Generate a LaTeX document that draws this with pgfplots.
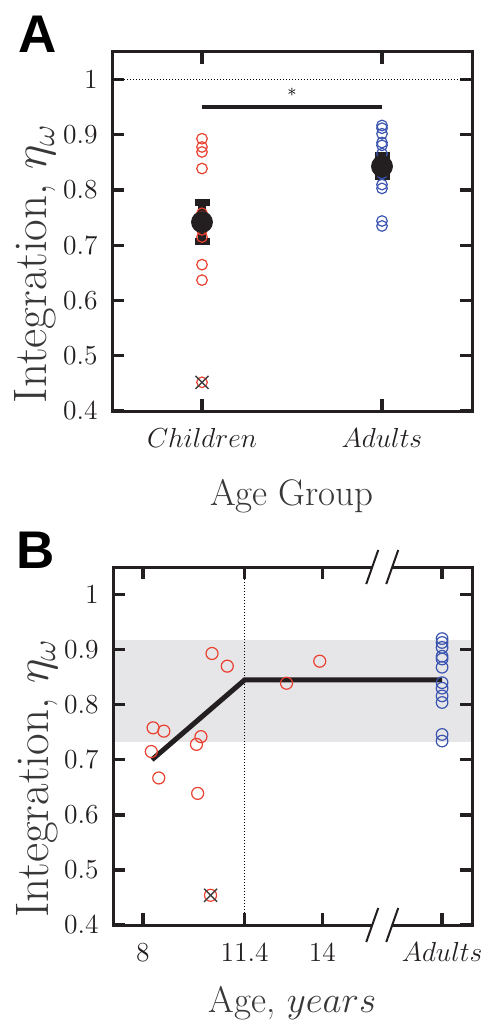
\RequirePackage{fix-cm}
\documentclass[border=0pt]{standalone}
\usepackage{fontspec}
\usepackage{pgfplots}
\pgfplotsset{compat=1.18}
\usetikzlibrary{calc}
\newfontfamily\helv{Liberation Sans}

\definecolor{kidred}{RGB}{234,64,48}
\definecolor{adblue}{RGB}{58,84,176}
\definecolor{band}{RGB}{230,230,232}
\definecolor{ink}{RGB}{35,31,32}

\pgfplotsset{
  panel/.style={
    scale only axis,
    ymin=0.4, ymax=1.05,
    ytick={0.4,0.5,0.6,0.7,0.8,0.9,1},
    axis line style={line width=1.5pt, draw=ink},
    tick style={line width=1.65pt, draw=ink},
    major tick length=6pt,
    tick align=inside,
    tick pos=both,
    tick label style={font=\fontsize{13.75}{15}\selectfont, text=ink},
    y tick label style={anchor=east, inner sep=0pt, xshift=-7pt},
    x tick label style={anchor=base, inner sep=0pt, yshift=-18pt},
    ylabel={Integration, $\eta_\omega$},
    ylabel style={font=\fontsize{23.5}{26}\selectfont, text=black!78,
      at={(axis description cs:-0.1806,0.41)}, anchor=base},
    xlabel style={font=\fontsize{18.5}{20}\selectfont, text=black!78, anchor=base},
    clip=false,
  }
}

\begin{document}
\begin{tikzpicture}
\path[use as bounding box] (0,0) rectangle (242.5pt,-510.5pt);

% ---- panel A: groups
\begin{axis}[panel, name=A,
  at={(56pt,-205.5pt)}, anchor=south west,
  width=180pt, height=179.5pt,
  xmin=0.5, xmax=2.5,
  xtick={1,2}, xticklabels={$Children$,$Adults$},
  xlabel={Age Group},
  xlabel style={at={(axis description cs:0.5,-0.2646)}},
]
\addplot[densely dotted, line width=0.5pt] coordinates {(0.5,1) (2.5,1)};
\addplot[ink, line width=2.2pt] coordinates {(1,0.95) (2,0.95)};
\node[font=\fontsize{9}{9}\selectfont] at (axis cs:1.5,0.977) {$\ast$};

% children
\addplot[only marks, mark=o, mark size=2.65pt, kidred, mark options={line width=0.6pt}] coordinates {
  (1,0.893) (1,0.878) (1,0.869) (1,0.839) (1,0.758) (1,0.752)
  (1,0.742) (1,0.728) (1,0.715) (1,0.665) (1,0.637) (1,0.452)
};
% adults
\addplot[only marks, mark=o, mark size=2.65pt, adblue, mark options={line width=0.6pt}] coordinates {
  (2,0.917) (2,0.912) (2,0.902) (2,0.886) (2,0.881) (2,0.866)
  (2,0.840) (2,0.830) (2,0.810) (2,0.803) (2,0.744) (2,0.735)
};
% means +- sem
\addplot[only marks, mark=*, mark size=5.25pt, ink,
  error bars/.cd, y dir=both, y explicit,
  error bar style={line width=4pt, ink},
  error mark options={rotate=90, mark size=3.75pt, line width=3.5pt, ink}]
  coordinates {(1,0.742) +- (0,0.036) (2,0.843) +- (0,0.019)};
% excluded
\addplot[only marks, mark=x, mark size=4.6pt, black!75, mark options={line width=0.7pt}] coordinates {(1,0.452)};
\end{axis}

% ---- panel B: age
\begin{axis}[panel, name=B,
  at={(56.5pt,-462.5pt)}, anchor=south west,
  width=179.5pt, height=179pt,
  xmin=7, xmax=19,
  xtick={8,11.4,14,18}, xticklabels={8,11.4,14,$Adults$},
  xlabel={Age, $years$},
  xlabel style={at={(axis description cs:0.5,-0.243)}},
  axis on top,
]
\addplot[fill=band, draw=none] coordinates {(7,0.733) (19,0.733) (19,0.918) (7,0.918)} -- cycle;
\addplot[densely dotted, line width=0.5pt] coordinates {(11.4,0.4) (11.4,1.05)};
\addplot[ink, line width=2.5pt] coordinates {(8.3,0.700) (11.4,0.845) (18,0.845)};

\addplot[only marks, mark=o, mark size=3pt, kidred, mark options={line width=0.6pt}] coordinates {
  (10.31,0.893) (10.82,0.870) (13.91,0.879) (12.80,0.839)
  (8.34,0.758) (8.70,0.752) (9.94,0.742) (9.79,0.728)
  (8.28,0.715) (8.53,0.667) (9.83,0.639) (10.26,0.454)
};
\addplot[only marks, mark=o, mark size=2.9pt, adblue, mark options={line width=0.6pt}] coordinates {
  (18,0.920) (18,0.913) (18,0.904) (18,0.888) (18,0.883) (18,0.868)
  (18,0.840) (18,0.830) (18,0.816) (18,0.804) (18,0.746) (18,0.734)
};
\addplot[only marks, mark=x, mark size=4.6pt, black!75, mark options={line width=0.7pt}] coordinates {(10.26,0.454)};
\end{axis}

% axis break marks on panel B
\path ($(B.north west)!0.75!(B.north east)$) coordinate (bt)
      ($(B.south west)!0.75!(B.south east)$) coordinate (bb);
\foreach \c in {bt,bb} {
  \fill[white] ([shift={(-5.4pt,-1pt)}]\c) -- ([shift={(4.6pt,-1pt)}]\c)
     -- ([shift={(5.4pt,1pt)}]\c) -- ([shift={(-4.6pt,1pt)}]\c) -- cycle;
  \draw[ink, line width=1pt] ([shift={(-8pt,-8.5pt)}]\c) -- ([shift={(-2pt,8.5pt)}]\c);
  \draw[ink, line width=1pt] ([shift={(2pt,-8.5pt)}]\c) -- ([shift={(8pt,8.5pt)}]\c);
}

% panel letters
\node[anchor=base west, inner sep=0pt, font=\fontsize{26.5}{28}\helv\bfseries\selectfont] at (9pt,-26.5pt) {A};
\node[anchor=base west, inner sep=0pt, font=\fontsize{26.5}{28}\helv\bfseries\selectfont] at (8pt,-284pt) {B};
\end{tikzpicture}
\end{document}
